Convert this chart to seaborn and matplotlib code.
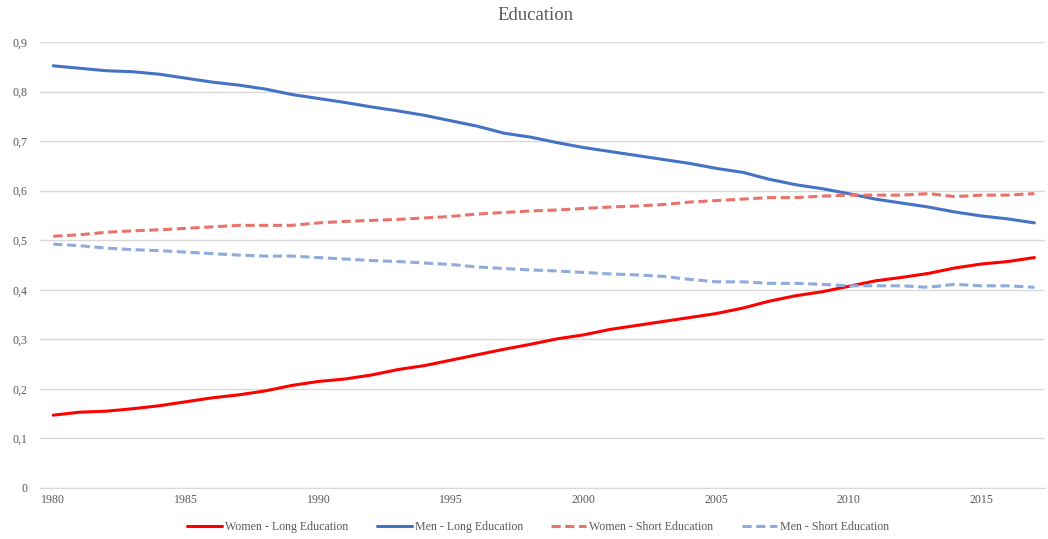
import numpy as np
import pandas as pd
import matplotlib
matplotlib.use("Agg")
import matplotlib.pyplot as plt
from matplotlib.ticker import FuncFormatter
import seaborn as sns

years = list(range(1980, 2018))
women_long = [0.147, 0.153, 0.155, 0.160, 0.166, 0.174, 0.182, 0.188, 0.196, 0.207,
              0.215, 0.220, 0.228, 0.239, 0.247, 0.258, 0.269, 0.280, 0.290, 0.301,
              0.309, 0.320, 0.328, 0.336, 0.344, 0.352, 0.363, 0.377, 0.388, 0.396,
              0.407, 0.418, 0.425, 0.433, 0.444, 0.452, 0.457, 0.465]
men_long = [0.852, 0.847, 0.842, 0.840, 0.835, 0.827, 0.819, 0.813, 0.805, 0.794,
            0.786, 0.778, 0.769, 0.761, 0.752, 0.741, 0.730, 0.716, 0.708, 0.697,
            0.687, 0.679, 0.671, 0.663, 0.655, 0.645, 0.637, 0.623, 0.612, 0.604,
            0.594, 0.583, 0.575, 0.567, 0.557, 0.549, 0.543, 0.535]
women_short = [0.508, 0.511, 0.516, 0.519, 0.521, 0.524, 0.527, 0.530, 0.530, 0.530,
               0.535, 0.538, 0.540, 0.542, 0.545, 0.548, 0.553, 0.556, 0.559, 0.561,
               0.564, 0.567, 0.569, 0.572, 0.577, 0.580, 0.583, 0.586, 0.586, 0.589,
               0.591, 0.591, 0.591, 0.594, 0.588, 0.591, 0.591, 0.594]
men_short = [0.492, 0.489, 0.484, 0.481, 0.479, 0.476, 0.473, 0.470, 0.468, 0.468,
             0.465, 0.462, 0.459, 0.457, 0.454, 0.451, 0.446, 0.443, 0.440, 0.438,
             0.435, 0.432, 0.430, 0.427, 0.421, 0.416, 0.416, 0.413, 0.413, 0.411,
             0.408, 0.408, 0.408, 0.405, 0.411, 0.408, 0.408, 0.405]
series_names = ["Women - Long Education", "Men - Long Education",
                "Women - Short Education", "Men - Short Education"]
x_ticks = [1980, 1985, 1990, 1995, 2000, 2005, 2010, 2015]
y_ticks = [0, 0.1, 0.2, 0.3, 0.4, 0.5, 0.6, 0.7, 0.8, 0.9]

sns.set_style("white")
plt.rcParams["font.family"] = ["Liberation Serif", "DejaVu Serif"]

fig = plt.figure(figsize=(10.48, 5.39), dpi=100)
ax = fig.add_axes([40 / 1048, 51 / 539, (1045 - 40) / 1048, (488 - 42) / 539])

colors = ["#FF0000", "#4472C4", "#E9726B", "#8FAADC"]
styles = ["-", "-", (0, (3.0, 1.5)), (0, (3.0, 1.5))]
all_vals = [women_long, men_long, women_short, men_short]
for name, vals, c, ls in zip(series_names, all_vals, colors, styles):
    df = pd.DataFrame({"year": years, "value": vals})
    sns.lineplot(data=df, x="year", y="value", ax=ax, color=c, linewidth=2.2,
                 linestyle=ls, label=name)

ax.set_xlim(1979.5, 2017.4)
ax.set_ylim(0, 0.9)
ax.set_yticks(y_ticks)
ax.set_xticks(x_ticks)
ax.yaxis.set_major_formatter(FuncFormatter(lambda v, p: "0" if abs(v) < 1e-9 else f"{v:.1f}".replace(".", ",")))
ax.grid(axis="y", color="#D9D9D9", linewidth=1.0)
ax.grid(axis="x", visible=False)
for s in ["top", "right", "left"]:
    ax.spines[s].set_visible(False)
ax.spines["bottom"].set_color("#D9D9D9")
ax.tick_params(axis="y", length=0, labelsize=8.6, colors="#595959", pad=9)
ax.tick_params(axis="x", length=0, labelsize=8.6, colors="#595959", pad=4)
ax.set_xlabel("")
ax.set_ylabel("")
fig.text(536 / 1048, 1 - 15 / 539, "Education", ha="center", va="center",
         fontsize=13.5, color="#595959")

leg = ax.legend(loc="center", bbox_to_anchor=((538 - 40) / 1005, -(527 - 488) / 446), ncol=4,
                frameon=False, fontsize=8.6, handlelength=2.9, columnspacing=2.4,
                handletextpad=0.25)
for t in leg.get_texts():
    t.set_color("#595959")

fig.savefig("out.png", dpi=100)
